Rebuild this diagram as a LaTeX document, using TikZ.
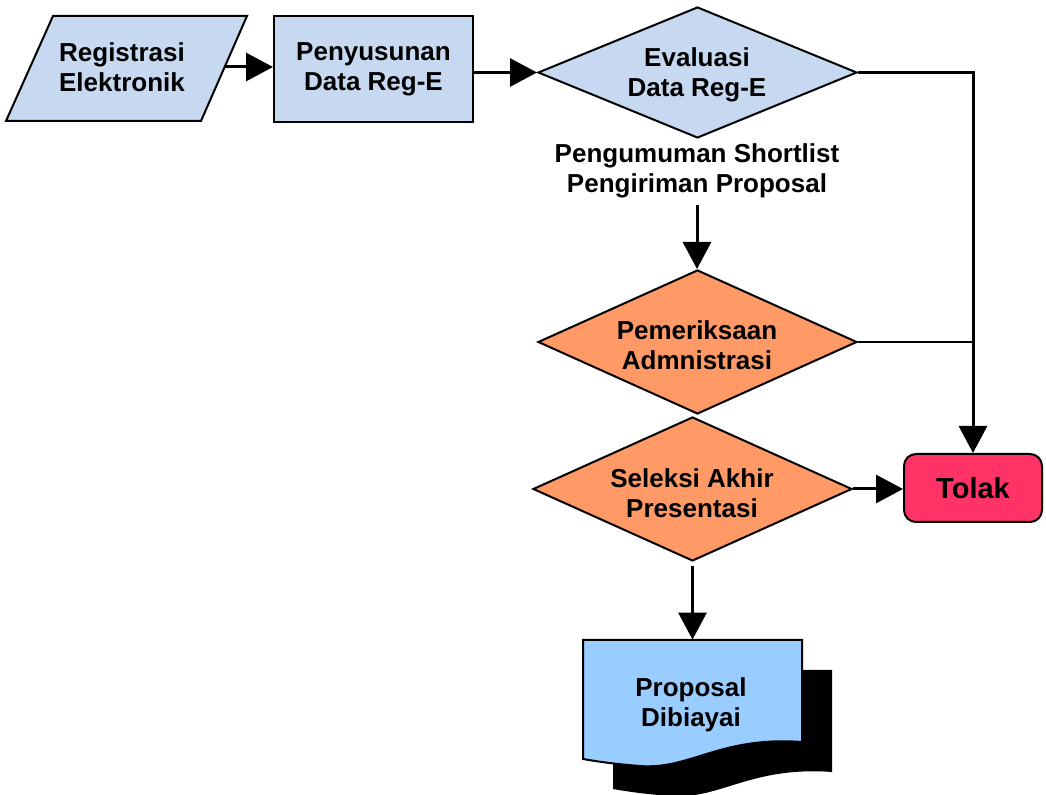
\documentclass[tikz,border=0pt]{standalone}
\usepackage{fontspec}
\setmainfont{Liberation Sans}
\usetikzlibrary{shapes.geometric,arrows.meta}
\definecolor{boxblue}{RGB}{198,217,240}
\definecolor{orangefill}{RGB}{255,153,102}
\definecolor{tolakred}{RGB}{255,51,102}
\definecolor{propblue}{RGB}{153,204,255}
\begin{document}
\begin{tikzpicture}[x=0.5pt,y=-0.5pt,
  every node/.style={font=\bfseries\fontsize{13}{15}\selectfont, align=center},
  shapebox/.style={draw=black, line width=1pt},
  flow/.style={line width=1.5pt, -{Triangle[length=13.5pt,width=14pt]}},
  dec/.style={shapebox, diamond, inner sep=0pt, fill=orangefill, minimum width=159.5pt, minimum height=72pt},
]
\useasboundingbox (0,0) rectangle (1046,795);

% parallelogram
\draw[shapebox, fill=boxblue] (53,16) -- (247,16) -- (201,121) -- (6,121) -- cycle;
\node (reg) at (122,67) {Registrasi\\Elektronik};
\coordinate (regE) at (225,67);
\node[shapebox, fill=boxblue, minimum width=99.5pt, minimum height=53pt, inner sep=0pt]
      (pen) at (373.5,69) {Penyusunan\\Data Reg-E};
\node[dec, fill=boxblue, minimum height=65.5pt] (eval) at (697.5,72.5) {};
\node (evaltxt) at (697,75) {Evaluasi\\Data Reg-E};
\node (short) at (697,171) {Pengumuman Shortlist\\Pengiriman Proposal};
\node[dec] (pem) at (697.5,342) {};
\node (pemtxt) at (697,345) {Pemeriksaan\\Admnistrasi};
\node[dec] (sel) at (692.5,489) {};
\node (seltxt) at (692,493) {Seleksi Akhir\\Presentasi};
\node[shapebox, fill=tolakred, rounded corners=6pt, minimum width=69pt, minimum height=34pt,
      inner sep=0pt, font=\bfseries\fontsize{14.5}{16}\selectfont] (tolak) at (973,488) {Tolak};

% document shape with shadow
\begin{scope}[shift={(30,30)}]
\fill[black] (583,640) -- (802,640) -- (802,742) .. controls (720,736) and (690,770) .. (640,766)
   .. controls (615,764) and (600,762) .. (583,759) -- cycle;
\end{scope}
\draw[shapebox, fill=propblue] (583,640) -- (802,640) -- (802,742) .. controls (720,736) and (690,770) .. (640,766)
   .. controls (615,764) and (600,762) .. (583,759) -- cycle;
\node[minimum width=109.5pt, minimum height=51pt, inner sep=0pt] (prop) at (692.5,691) {};
\node (proptxt) at (691,705) {Proposal\\Dibiayai};

% connectors
\draw[flow] (regE) -- (regE -| pen.west);
\draw[flow] (pen.east |- eval.west) -- (eval.west);
\draw[flow] (eval.east) -| (tolak.north);
\draw[flow] (short.south) -- (short.south |- pem.north);
\draw[line width=1pt] (pem.east) -- (pem.east -| tolak.north);
\draw[flow] (sel.east) -- (sel.east -| tolak.west);
\draw[flow] ([yshift=-2pt]sel.south) -- (sel.south |- prop.north);
\end{tikzpicture}
\end{document}
